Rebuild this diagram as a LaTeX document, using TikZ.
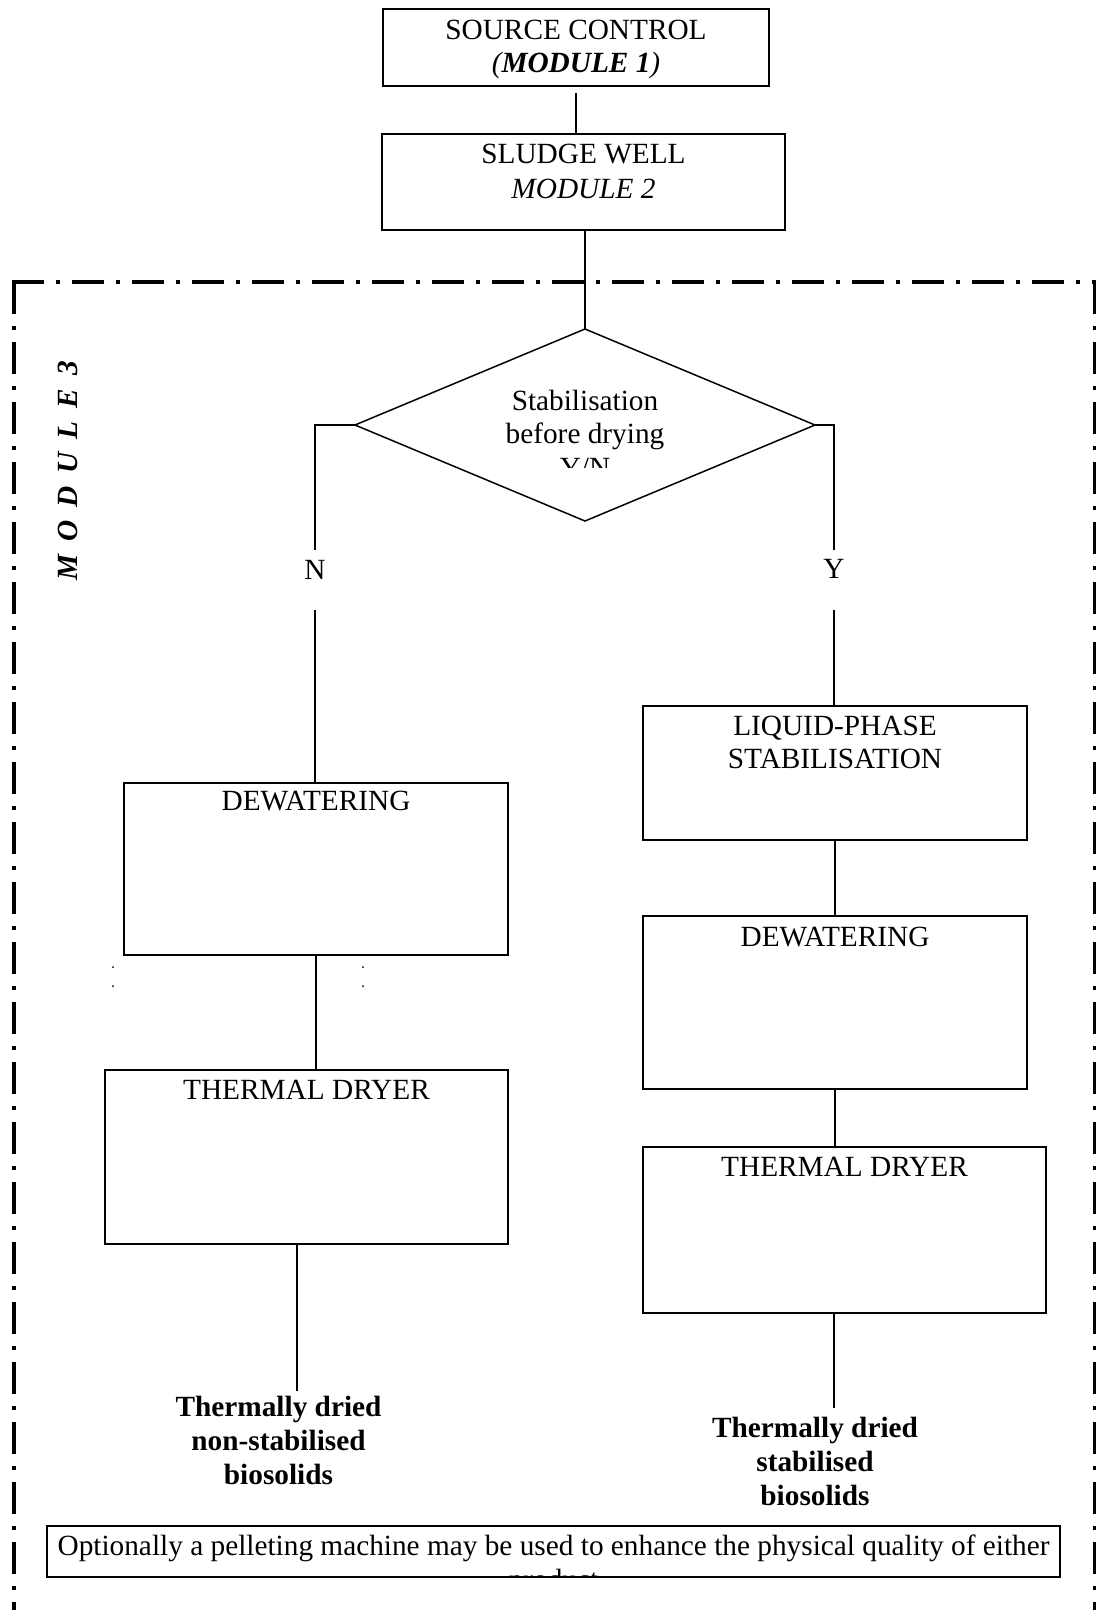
\documentclass[tikz,border=0pt]{standalone}
\usepackage{fontspec}
\setmainfont{Liberation Serif}
\usetikzlibrary{shapes.geometric}
\newcommand{\tx}{\fontsize{29.3}{34}\selectfont}
\newcommand{\lsp}{\hspace{13pt}}

\begin{document}
\begin{tikzpicture}[x=1pt,y=-1pt,
  box/.style={draw, line width=1.8pt, inner sep=0pt, outer sep=0pt},
  lbl/.style={anchor=base, inner sep=0pt, font=\tx},
  blbl/.style={anchor=base, inner sep=0pt, font=\tx\bfseries},
  wire/.style={line width=1.5pt},
  frame/.style={line width=3.3pt, dash pattern=on 32pt off 12pt on 3.5pt off 12.5pt}]

\useasboundingbox (0,0) rectangle (1096,1610);
\clip (0,0) rectangle (1096,1610);

% dash-dot frame around module 3
\draw[frame] (12.35,282) -- (1096,282);
\draw[frame] (14,282) -- (14,1660);
\draw[frame] (1094.5,282) -- (1094.5,1660);

% process boxes
\node[box, minimum width=386, minimum height=77]  (src)    at (576,47.5)    {};
\node[box, minimum width=403, minimum height=96]  (sludge) at (583.5,182)   {};
\node[draw, diamond, line width=1.5pt, inner sep=0pt, outer sep=0pt,
      minimum width=460, minimum height=192]      (dia)    at (585,425)     {};
\node[box, minimum width=384, minimum height=172] (dewL)   at (316,869)     {};
\node[box, minimum width=403, minimum height=174] (thL)    at (306.5,1157)  {};
\node[box, minimum width=384, minimum height=134] (liq)    at (835,773)     {};
\node[box, minimum width=384, minimum height=173] (dewR)   at (835,1002.5)  {};
\node[box, minimum width=403, minimum height=166] (thR)    at (844.5,1230)  {};
\node[box, minimum width=1013, minimum height=51] (note)   at (553.5,1551.5){};

% box texts
\node[lbl] (srcA) at (576,39) {SOURCE CONTROL};
\node[lbl] (srcB) at (576,72) {\textit{(\textbf{MODULE 1})}};
\node[lbl] (slA) at (583.5,163) {SLUDGE WELL};
\node[lbl] (slB) at (583.5,198) {\textit{MODULE 2}};
\begin{scope}
  \clip (350,329) rectangle (820,467);
  \node[lbl] (diaA) at (585,410) {Stabilisation};
  \node[lbl] (diaB) at (585,443) {before drying};
  \node[lbl] (diaC) at (585,477) {Y/N};
\end{scope}
\node[lbl] (nlab) at (315,579) {N};
\node[lbl] (ylab) at (834,578) {Y};
\node[lbl] (dewLt) at (316,810) {DEWATERING};
\node[lbl] (thLt) at (306.5,1099) {THERMAL DRYER};
\node[lbl] (liqA) at (835,735) {LIQUID-PHASE};
\node[lbl] (liqB) at (835,768) {STABILISATION};
\node[lbl] (dewRt) at (835,946) {DEWATERING};
\node[lbl] (thRt) at (844.5,1176) {THERMAL DRYER};
\node[blbl] (oLA) at (278.5,1416) {Thermally dried};
\node[blbl] (oLB) at (278.5,1450) {non-stabilised};
\node[blbl] (oLC) at (278.5,1484) {biosolids};
\node[blbl] (oRA) at (815,1437) {Thermally dried};
\node[blbl] (oRB) at (815,1471) {stabilised};
\node[blbl] (oRC) at (815,1505) {biosolids};
\begin{scope}
  \clip (47,1526) rectangle (1060,1577);
  \node[lbl] (noteA) at (553.5,1555) {Optionally a pelleting machine may be used to enhance the physical quality of either};
  \node[lbl] (noteB) at (553.5,1589) {product};
\end{scope}
\node[rotate=90, inner sep=0pt, font=\tx\bfseries\itshape] (mod) at (68,471)
  {M\lsp O\lsp D\lsp U\lsp L\lsp E\lsp 3};

% small dots beside the left dewatering box
\fill (113,967) circle (1);
\fill (113,986) circle (1);
\fill (363,967) circle (1);
\fill (363,986) circle (1);

% connectors
\coordinate (srcGap) at (576,93);
\coordinate (nTop) at (315,550);
\coordinate (nBot) at (315,610);
\coordinate (yTop) at (834,550);
\coordinate (yBot) at (834,610);
\coordinate (outL) at (297,1391);
\coordinate (outR) at (834,1408);
\draw[wire] (srcGap) -- (srcGap |- sludge.north);
\draw[wire] (dia.north |- sludge.south) -- (dia.north);
\draw[wire] (dia.west) -| (nTop);
\draw[wire] (nBot) -- (nBot |- dewL.north);
\draw[wire] (dia.east) -| (yTop);
\draw[wire] (yBot) -- (yBot |- liq.north);
\draw[wire] (dewL.south) -- (dewL.south |- thL.north);
\draw[wire] (outL |- thL.south) -- (outL);
\draw[wire] (liq.south) -- (dewR.north);
\draw[wire] (dewR.south) -- (dewR.south |- thR.north);
\draw[wire] (outR |- thR.south) -- (outR);
\end{tikzpicture}
\end{document}
